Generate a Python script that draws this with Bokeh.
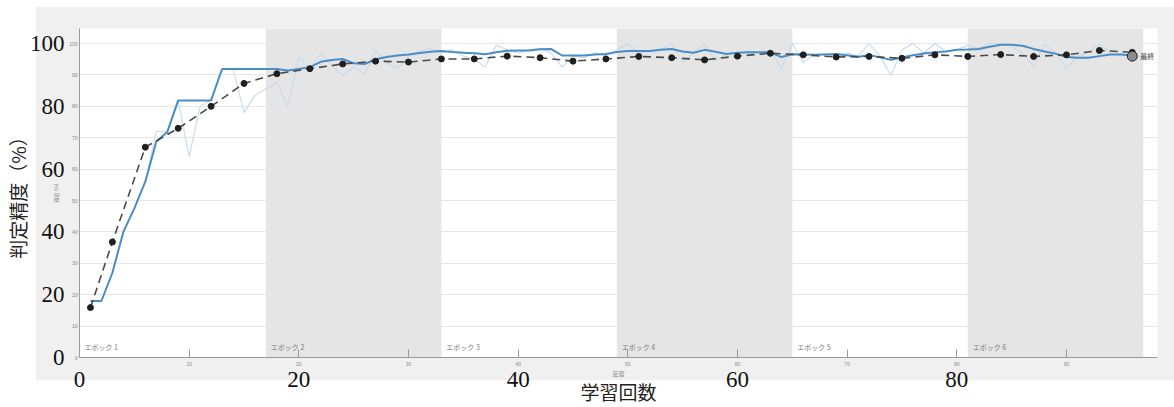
from bokeh.plotting import figure
from bokeh.models import Range1d, LinearAxis, FixedTicker, BoxAnnotation
from bokeh.core.properties import value
from bokeh.embed import file_html
from bokeh.resources import INLINE

# ---------------- data ----------------
iterations = list(range(1, 97))
train_acc_raw = [
    18, 18, 27, 40, 47.5, 56, 72, 72, 82, 64,
    80, 82, 92, 92, 78, 83.5, 85.6, 87.7, 79.8, 95.7,
    92, 96.7, 93, 89.8, 92.5, 90.2, 97.8, 94, 92, 96,
    97.5, 98.5, 97, 98, 96, 95, 92.5, 99.5, 98, 97,
    98, 98.5, 97, 92.5, 96, 95.5, 97, 96, 98, 100,
    97, 97.5, 98, 100, 94, 97, 100, 94.5, 96.5, 97,
    97.5, 97, 98, 92, 100, 94, 96.5, 97, 95.5, 97,
    96, 100, 96, 89.8, 98, 100, 97, 100, 97.5, 98,
    99.4, 98.5, 100, 100, 99, 97, 92.5, 100, 97, 92,
    96, 97, 100, 97, 96, 96.5,
]
train_acc_smooth = [
    18, 18, 27, 40, 47.5, 56, 68.7, 71.8, 81.9, 81.9,
    81.9, 81.9, 91.9, 91.9, 91.9, 91.9, 91.9, 91.9, 91.4, 91.9,
    92.5, 94.2, 94.8, 95.1, 93.7, 93.5, 95, 95.7, 96.2, 96.5,
    97, 97.4, 97.6, 97.3, 97.1, 96.9, 96.6, 97.2, 97.7, 97.8,
    97.8, 98.2, 98.3, 96.2, 96.2, 96.2, 96.5, 96.7, 97.3, 97.6,
    97.6, 97.6, 98, 98.3, 97.5, 97.1, 98, 97.4, 96.7, 97.1,
    97.2, 97.2, 97.2, 95.7, 96.6, 96.5, 96.4, 96.5, 96.7, 96.3,
    95.7, 96.4, 95.6, 94.8, 95.6, 96.3, 96.8, 97.2, 97.5, 98,
    98.1, 98.3, 99, 99.6, 99.6, 99.3, 98.3, 97.5, 96.8, 95.7,
    95.5, 95.5, 96, 96.5, 96.5, 96.2,
]
val_iters = [1, 3, 6, 9, 12, 15, 18, 21, 24, 27, 30, 33, 36, 39, 42, 45, 48,
             51, 54, 57, 60, 63, 66, 69, 72, 75, 78, 81, 84, 87, 90, 93, 96]
val_acc = [15.9, 36.8, 67, 73, 80, 87.3, 90.4, 92, 93.5, 94.4, 94.1, 95.1, 95.1,
           96, 95.5, 94.4, 95.1, 95.9, 95.5, 94.8, 96, 96.9, 96.4, 95.7, 95.9,
           95.3, 96.4, 95.9, 96.5, 95.9, 96.4, 97.8, 97.2]
final_iter = 96
final_val_acc = 96.0
final_label = "最終"

iters_per_epoch = 16
epoch_names = ["エポック 1", "エポック 2", "エポック 3", "エポック 4", "エポック 5", "エポック 6"]

x_big_ticks = [0, 20, 40, 60, 80]
x_small_ticks = [10, 20, 30, 40, 50, 60, 70, 80, 90]
y_big_ticks = [0, 20, 40, 60, 80, 100]
y_small_ticks = [0, 10, 20, 30, 40, 50, 60, 70, 80, 90, 100]

x_title = "学習回数"
y_title = "判定精度（%）"
inner_x_title = "反復"
inner_y_title = "精度 (%)"

# ---------------- styles ----------------
SERIF = "Liberation Serif"
CJK = "Noto Sans CJK JP"
PANEL_GRAY = "#f0f0f0"
BAND_GRAY = "#e5e5e5"
AXIS_GRAY = "#9a9a9a"
SMALL_TXT = "#8a8a8a"

p = figure(width=1174, height=407, output_backend="svg", toolbar_location=None,
           x_range=Range1d(0, 98.3), y_range=Range1d(0, 104.8),
           min_border_left=78, min_border_right=17, min_border_top=28,
           min_border_bottom=49, border_fill_color=None,
           background_fill_color="white", outline_line_color=None)
p.styles = {
    "background-image": f"linear-gradient({PANEL_GRAY}, {PANEL_GRAY})",
    "background-repeat": "no-repeat",
    "background-position": "36px 7px",
    "background-size": "1138px 373px",
}

# epoch bands (even epochs shaded)
n_epochs = len(epoch_names)
band_left = [0] + [k * iters_per_epoch + 1 for k in range(1, n_epochs)]
band_right = [(k + 1) * iters_per_epoch + 1 for k in range(n_epochs)]
for k in range(n_epochs):
    if k % 2 == 1:
        p.add_layout(BoxAnnotation(left=band_left[k], right=band_right[k],
                                   fill_color=BAND_GRAY, fill_alpha=1.0,
                                   line_color=None, level="image"))

# grid
p.xgrid.visible = False
p.ygrid.grid_line_color = "#e6e6e6"
p.ygrid.grid_line_width = 1

# epoch labels
p.text(x=[b + 0.45 for b in band_left], y=[3.3] * n_epochs, text=epoch_names,
       text_font=value(CJK), text_font_size="7px", text_color="#7a7a7a",
       text_baseline="middle", text_align="left")

# series
p.line(iterations, train_acc_raw, line_color="#c6daec", line_width=1.1)
p.line(iterations, train_acc_smooth, line_color="#4a8dc6", line_width=2)
p.line(val_iters, val_acc, line_color="#4a4a4a", line_width=1.6, line_dash="8 5")
p.scatter(val_iters, val_acc, size=6, fill_color="#1f1f1f", line_color="#1f1f1f")
p.scatter([final_iter], [final_val_acc], size=10, fill_color="#8c8c8c",
          line_color="#222222", line_width=1)
p.text(x=[final_iter], y=[final_val_acc], text=[final_label], x_offset=8,
       text_font=value(CJK), text_font_size="7px", text_color="#444444",
       text_baseline="middle")

# ---- x axes: inner (small labels, inward ticks) + outer big serif labels
xa = p.xaxis[0]
xa.ticker = FixedTicker(ticks=x_small_ticks)
xa.axis_line_color = AXIS_GRAY
xa.major_tick_line_color = AXIS_GRAY
xa.major_tick_in = 8
xa.major_tick_out = 0
xa.minor_tick_line_color = None
xa.major_label_text_font_size = "5px"
xa.major_label_text_color = SMALL_TXT
xa.major_label_standoff = 4
xa.axis_label = inner_x_title
xa.axis_label_text_font = CJK
xa.axis_label_text_font_size = "6px"
xa.axis_label_text_font_style = "normal"
xa.axis_label_text_color = SMALL_TXT
xa.axis_label_standoff = 0

xb = LinearAxis(ticker=FixedTicker(ticks=x_big_ticks))
xb.axis_line_color = None
xb.major_tick_line_color = None
xb.minor_tick_line_color = None
xb.major_label_text_font = SERIF
xb.major_label_text_font_size = "23px"
xb.major_label_text_color = "#111111"
xb.major_label_standoff = -15
xb.axis_label = x_title
xb.axis_label_text_font = CJK
xb.axis_label_text_font_size = "19px"
xb.axis_label_text_font_style = "normal"
xb.axis_label_text_color = "#222222"
xb.axis_label_standoff = -12
p.add_layout(xb, "below")

# ---- y axes: inner small labels + outer big serif labels
ya = p.yaxis[0]
ya.ticker = FixedTicker(ticks=y_small_ticks)
ya.axis_line_color = AXIS_GRAY
ya.major_tick_line_color = "#c8c8c8"
ya.major_tick_in = 0
ya.major_tick_out = 2
ya.minor_tick_line_color = None
ya.major_label_text_font_size = "5px"
ya.major_label_text_color = SMALL_TXT
ya.major_label_standoff = 0
ya.axis_label = inner_y_title
ya.axis_label_text_font = CJK
ya.axis_label_text_font_size = "5px"
ya.axis_label_text_font_style = "normal"
ya.axis_label_text_color = SMALL_TXT
ya.axis_label_standoff = 7

yb = LinearAxis(ticker=FixedTicker(ticks=y_big_ticks))
yb.axis_line_color = None
yb.major_tick_line_color = None
yb.minor_tick_line_color = None
yb.major_label_text_font = SERIF
yb.major_label_text_font_size = "23px"
yb.major_label_text_color = "#111111"
yb.major_label_standoff = -21
yb.axis_label = y_title
yb.axis_label_text_font = CJK
yb.axis_label_text_font_size = "19px"
yb.axis_label_text_font_style = "normal"
yb.axis_label_text_color = "#222222"
yb.axis_label_standoff = -4
p.add_layout(yb, "left")

open("out.html", "w").write(file_html(p, INLINE))
